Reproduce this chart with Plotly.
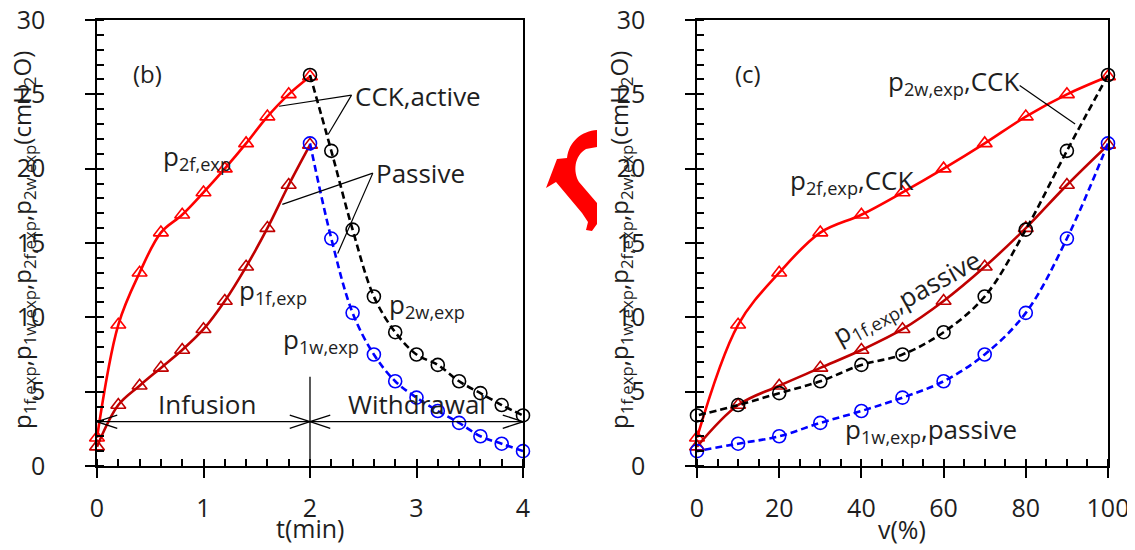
import plotly.graph_objects as go

# ---------------- data ----------------
t_inf = [0.0, 0.2, 0.4, 0.6, 0.8, 1.0, 1.2, 1.4, 1.6, 1.8, 2.0]
t_wd = [2.0, 2.2, 2.4, 2.6, 2.8, 3.0, 3.2, 3.4, 3.6, 3.8, 4.0]
v_inf = [0, 10, 20, 30, 40, 50, 60, 70, 80, 90, 100]
v_wd = [100, 90, 80, 70, 60, 50, 40, 30, 20, 10, 0]

p2f_exp = [1.9, 9.5, 13.0, 15.7, 16.9, 18.4, 20.0, 21.7, 23.5, 25.0, 26.2]
p1f_exp = [1.3, 4.1, 5.4, 6.6, 7.8, 9.2, 11.1, 13.4, 16.0, 18.9, 21.6]
p2w_exp = [26.3, 21.2, 15.9, 11.4, 9.0, 7.5, 6.8, 5.7, 4.9, 4.1, 3.4]
p1w_exp = [21.7, 15.3, 10.3, 7.5, 5.7, 4.6, 3.7, 2.9, 2.0, 1.5, 1.0]

FONT = "Open Sans"
TXT = "#1e1e1e"
OFF = 8                      # page margin of the html body
W, H = 1135 - OFF, 550 - OFF

def px(x):
    return (x - OFF) / W

def py(y):
    return 1 - (y - OFF) / H

fig = go.Figure()

series = [
    (p2f_exp, "inf", "#FF0000", "solid", "triangle-up-open"),
    (p1f_exp, "inf", "#C00000", "solid", "triangle-up-open"),
    (p2w_exp, "wd", "#000000", "7px,4px", "circle-open"),
    (p1w_exp, "wd", "#0000FF", "7px,4px", "circle-open"),
]

for panel, (xa, ya) in enumerate([("x", "y"), ("x2", "y2")]):
    for vals, kind, col, dash, sym in series:
        if panel == 0:
            xs = t_inf if kind == "inf" else t_wd
        else:
            xs = v_inf if kind == "inf" else v_wd
        fig.add_trace(go.Scatter(
            x=xs, y=vals, xaxis=xa, yaxis=ya, mode="lines+markers",
            line=dict(color=col, width=2.6, dash=dash, shape="spline", smoothing=1.0),
            marker=dict(symbol=sym, size=13, color=col, line=dict(width=1.6, color=col)),
            cliponaxis=False, showlegend=False, hoverinfo="skip"))

xdomL = [px(97), px(523)]
xdomR = [px(697), px(1108)]
ydom = [py(466), py(20)]

axis_common = dict(showline=True, linecolor="black", linewidth=1.5, mirror=True,
                   ticks="outside", ticklen=10, tickwidth=1.5, tickcolor="black",
                   showgrid=False, zeroline=False, automargin=False,
                   ticklabeloverflow="allow",
                   tickfont=dict(family=FONT, size=25, color=TXT))
minor_common = dict(ticks="inside", ticklen=7, tickwidth=1.5, tickcolor="black", showgrid=False)
over_common = dict(showline=False, ticks="inside", ticklen=7, tickwidth=1.5, tickcolor="black",
                   showticklabels=False, showgrid=False, zeroline=False)

fig.update_layout(
    width=W, height=H, margin=dict(l=0, r=0, t=0, b=0),
    paper_bgcolor="white", plot_bgcolor="white", showlegend=False,
    xaxis=dict(domain=xdomL, range=[0, 4], dtick=1, anchor="y", ticklabelstandoff=9,
               minor=dict(dtick=0.2, **minor_common), **axis_common),
    yaxis=dict(domain=ydom, range=[0, 30], dtick=5, anchor="x", ticklabelstandoff=35,
               minor=dict(dtick=1, **minor_common), **axis_common),
    xaxis2=dict(domain=xdomR, range=[0, 100], dtick=20, anchor="y2", ticklabelstandoff=9,
                minor=dict(dtick=5, **minor_common), **axis_common),
    yaxis2=dict(domain=ydom, range=[0, 30], dtick=5, anchor="x2", ticklabelstandoff=35,
                minor=dict(dtick=1, **minor_common), **axis_common),
    xaxis3=dict(overlaying="x", anchor="y", range=[0, 4], dtick=1, **over_common),
    yaxis3=dict(overlaying="y", anchor="x", range=[0, 30], dtick=5, **over_common),
    xaxis4=dict(overlaying="x2", anchor="y2", range=[0, 100], dtick=20, **over_common),
    yaxis4=dict(overlaying="y2", anchor="x2", range=[0, 30], dtick=5, **over_common),
)

ann = []

def text(x, y, s, xref, yref, size=26, angle=0, xanchor="center"):
    ann.append(dict(x=x, y=y, xref=xref, yref=yref, text=s, showarrow=False,
                    textangle=angle, xanchor=xanchor, yanchor="middle",
                    font=dict(family=FONT, size=size, color=TXT)))

# axis titles
ytitle = "p<sub>1f,exp</sub>,p<sub>1w,exp</sub>,p<sub>2f,exp</sub>,p<sub>2w,exp</sub>(cmH<sub>2</sub>O)"
text(px(23), py(240), ytitle, "paper", "paper", size=24, angle=-90)
text(px(620), py(240), ytitle, "paper", "paper", size=24, angle=-90)
text(px(310), py(528), "t(min)", "paper", "paper", size=25)
text(px(902), py(529), "v(%)", "paper", "paper", size=25)

# left panel labels
text(0.47, 26.4, "(b)", "x", "y", size=24)
text(2.40, 24.9, "CCK,active", "x", "y", xanchor="left")
text(2.60, 19.7, "Passive", "x", "y", xanchor="left")
text(0.94, 20.8, "p<sub>2f,exp</sub>", "x", "y")
text(1.65, 11.8, "p<sub>1f,exp</sub>", "x", "y")
text(3.1, 10.8, "p<sub>2w,exp</sub>", "x", "y")
text(2.1, 8.5, "p<sub>1w,exp</sub>", "x", "y")
text(1.03, 4.2, "Infusion", "x", "y")
text(3.0, 4.2, "Withdrawal", "x", "y")

# right panel labels
text(12.5, 26.4, "(c)", "x2", "y2", size=24)
text(62.3, 25.8, "p<sub>2w,exp</sub>,CCK", "x2", "y2")
text(37.5, 19.2, "p<sub>2f,exp</sub>,CCK", "x2", "y2")
text(51, 11.3, "p<sub>1f,exp</sub>,passive", "x2", "y2", angle=-29)
text(57, 2.4, "p<sub>1w,exp</sub>,passive", "x2", "y2")

fig.update_layout(annotations=ann)

shapes = []

def seg(x0, y0, x1, y1, xref="x", yref="y", w=1.2):
    shapes.append(dict(type="line", x0=x0, y0=y0, x1=x1, y1=y1, xref=xref, yref=yref,
                       line=dict(color="black", width=w)))

# leader lines
seg(2.39, 24.95, 1.71, 24.2)
seg(2.39, 24.95, 2.17, 22.3)
seg(2.59, 19.7, 1.74, 17.6)
seg(2.59, 19.7, 2.26, 14.3)
seg(78.5, 25.6, 92.0, 23.0, "x2", "y2")

# infusion / withdrawal arrows
ya = 2.98
seg(0, ya, 2, ya, w=1.3)
seg(2, ya, 4, ya, w=1.3)
seg(2, 0, 2, 6.0, w=1.3)
dx, dy = 0.19, 0.45
for tip, d in [(0.0, 1), (2.0, -1), (2.0, 1), (4.0, -1)]:
    seg(tip, ya, tip + d * dx, ya + dy, w=1.3)
    seg(tip, ya, tip + d * dx, ya - dy, w=1.3)

# red curved symbol between the panels (pixel outline -> paper coords)
outline = [("M", 597, 130), ("C", 582, 131, 569, 141, 567, 158), ("L", 557, 159),
           ("L", 546, 188), ("L", 556, 182), ("L", 582, 213), ("L", 588, 222),
           ("L", 586, 230), ("L", 592, 231), ("L", 597, 224), ("L", 597, 203),
           ("L", 579, 182), ("C", 573, 172, 574, 156, 586, 149), ("L", 597, 147)]
path = ""
for item in outline:
    cmd, pts = item[0], item[1:]
    coords = []
    for i in range(0, len(pts), 2):
        coords.append(f"{px(pts[i]):.5f},{py(pts[i+1]):.5f}")
    path += cmd + " " + " ".join(coords) + " "
path += "Z"
shapes.append(dict(type="path", path=path, xref="paper", yref="paper",
                   fillcolor="#FF0000", line=dict(width=0), layer="above"))

fig.update_layout(shapes=shapes)

fig.write_html("out.html")
